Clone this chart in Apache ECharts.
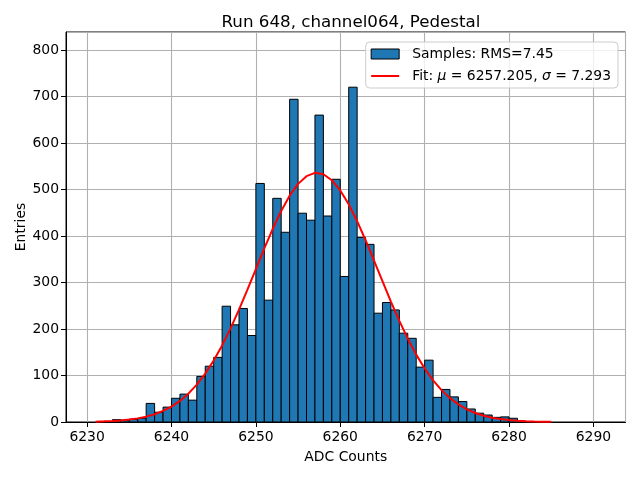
<!DOCTYPE html>
<html lang="en">
<head>
    <meta charset="UTF-8"/>
    <title>Pedestal</title>
    <script src="https://cdn.jsdelivr.net/npm/echarts@6/dist/echarts.min.js"></script>
    <style>
        html, body { margin: 0; padding: 0; background: #fff; }
    </style>
</head>
<body>
<div id="main" style="width: 640px; height: 480px;"></div>
<script type="text/javascript">
    // histogram bins (left edge, width 1 ADC count) and entries per bin
    var binStart = [6233, 6234, 6235, 6236, 6237, 6238, 6239, 6240, 6241, 6242,
                    6243, 6244, 6245, 6246, 6247, 6248, 6249, 6250, 6251, 6252,
                    6253, 6254, 6255, 6256, 6257, 6258, 6259, 6260, 6261, 6262,
                    6263, 6264, 6265, 6266, 6267, 6268, 6269, 6270, 6271, 6272,
                    6273, 6274, 6275, 6276, 6277, 6278, 6279, 6280, 6281];
    var counts = [5, 4, 6, 8, 40, 21, 32, 51, 60, 47,
                  98, 120, 139, 249, 209, 244, 186, 513, 262, 481,
                  408, 694, 449, 434, 660, 443, 522, 313, 720, 397,
                  382, 234, 257, 241, 191, 180, 118, 133, 53, 70,
                  54, 44, 28, 19, 15, 10, 11, 8, 2];
    var binWidth = 1;

    // fit curve
    var fitX = [6231, 6232, 6233, 6234, 6235, 6236, 6237, 6238, 6239, 6240,
                6241, 6242, 6243, 6244, 6245, 6246, 6247, 6248, 6249, 6250,
                6251, 6252, 6253, 6254, 6255, 6256, 6257, 6258, 6259, 6260,
                6261, 6262, 6263, 6264, 6265, 6266, 6267, 6268, 6269, 6270,
                6271, 6272, 6273, 6274, 6275, 6276, 6277, 6278, 6279, 6280,
                6281, 6282, 6283, 6284, 6285];
    var fitY = [0.8, 1.4, 2.2, 3.4, 5.2, 7.8, 11.5, 16.7, 23.8, 33.2,
                45.4, 61.0, 80.4, 104.0, 132.1, 164.7, 201.4, 241.7, 284.6, 329.0,
                373.3, 415.5, 453.9, 486.7, 512.1, 528.7, 535.8, 532.8, 520.0, 498.0,
                468.1, 431.8, 390.9, 347.3, 302.8, 259.0, 217.5, 179.2, 144.9, 115.0,
                89.6, 68.5, 51.3, 37.8, 27.3, 19.4, 13.5, 9.2, 6.2, 4.1,
                2.6, 1.7, 1.0, 0.6, 0.4];

    var yTicks = [0, 100, 200, 300, 400, 500, 600, 700, 800];
    var xTicks = [6230, 6240, 6250, 6260, 6270, 6280, 6290];

    var font = 'DejaVu Sans';
    var myChart = echarts.init(document.getElementById('main'));

    option = {
        animation: false,
        textStyle: { fontFamily: font },
        title: {
            text: 'Run 648, channel064, Pedestal',
            left: 346,
            textAlign: 'center',
            top: 9,
            textStyle: { fontFamily: font, fontSize: 16.7, fontWeight: 'normal', color: '#000' }
        },
        grid: {
            left: 66, right: 14.5, top: 32, bottom: 58,
            show: true, borderColor: '#000', borderWidth: 1, backgroundColor: 'transparent'
        },
        legend: {
            orient: 'vertical',
            right: 22,
            top: 42,
            itemWidth: 28,
            itemHeight: 10,
            itemGap: 8,
            padding: [5, 7, 5, 5],
            symbolKeepAspect: true,
            backgroundColor: 'rgba(255,255,255,0.8)',
            borderColor: '#cccccc',
            borderWidth: 1,
            borderRadius: 4,
            data: [
                { name: 'samples', icon: 'rect', itemStyle: { color: '#1f77b4', borderColor: '#000', borderWidth: 1 } },
                { name: 'fit', icon: 'path://M0,0 L28,0 L28,2 L0,2 Z', itemStyle: { color: '#ff0000', borderWidth: 0 } }
            ],
            formatter: function (name) {
                if (name === 'samples') return 'Samples: RMS=7.45';
                return 'Fit: {i|\u03bc} = 6257.205, {i|\u03c3} = 7.293';
            },
            textStyle: {
                fontFamily: font, fontSize: 13.9, color: '#000', padding: [0, 0, 0, 8],
                rich: { i: { fontFamily: font, fontSize: 13.9, fontStyle: 'italic', color: '#000' } }
            }
        },
        xAxis: {
            type: 'value',
            min: 6227.5,
            max: 6293.8,
            splitNumber: 7,
            name: 'ADC Counts',
            nameLocation: 'middle',
            nameGap: 28,
            nameMoveOverlap: false,
            nameTextStyle: { fontFamily: font, fontSize: 13.9, color: '#000' },
            axisLine: { show: true, onZero: false, lineStyle: { color: '#000', width: 1 } },
            axisTick: { show: true, inside: false, length: 5, lineStyle: { color: '#000' } },
            axisLabel: {
                margin: 8, fontFamily: font, fontSize: 13.9, color: '#000',
                showMinLabel: false, showMaxLabel: false,
                formatter: function (v) { return xTicks.indexOf(v) >= 0 ? String(v) : ''; }
            },
            splitLine: { show: true, lineStyle: { color: '#b0b0b0', width: 1.1 } }
        },
        yAxis: {
            type: 'value',
            min: 0,
            max: 838.7,
            interval: 100,
            name: 'Entries',
            nameLocation: 'middle',
            nameGap: 38,
            nameMoveOverlap: false,
            nameTextStyle: { fontFamily: font, fontSize: 13.9, color: '#000' },
            axisLine: { show: true, lineStyle: { color: '#000', width: 1 } },
            axisTick: { show: true, inside: false, length: 5, lineStyle: { color: '#000' } },
            axisLabel: {
                margin: 7, fontFamily: font, fontSize: 13.9, color: '#000',
                showMaxLabel: false,
                formatter: function (v) { return yTicks.indexOf(v) >= 0 ? String(v) : ''; }
            },
            splitLine: { show: true, lineStyle: { color: '#b0b0b0', width: 1.1 } }
        },
        series: [
            {
                name: 'samples',
                type: 'custom',
                data: binStart.map(function (x, i) { return [x, counts[i]]; }),
                encode: { x: 0, y: 1 },
                itemStyle: { color: '#1f77b4' },
                renderItem: function (params, api) {
                    var x0 = api.value(0);
                    var top = api.coord([x0, api.value(1)]);
                    var base = api.coord([x0 + binWidth, 0]);
                    return {
                        type: 'rect',
                        shape: { x: top[0], y: top[1], width: base[0] - top[0], height: base[1] - top[1] },
                        style: { fill: '#1f77b4', stroke: '#000', lineWidth: 1 }
                    };
                }
            },
            {
                name: 'fit',
                type: 'line',
                data: fitX.map(function (x, i) { return [x, fitY[i]]; }),
                showSymbol: false,
                symbol: 'none',
                lineStyle: { color: '#ff0000', width: 2 },
                itemStyle: { color: '#ff0000' },
                z: 3
            }
        ]
    };

    myChart.setOption(option);
</script>
</body>
</html>
